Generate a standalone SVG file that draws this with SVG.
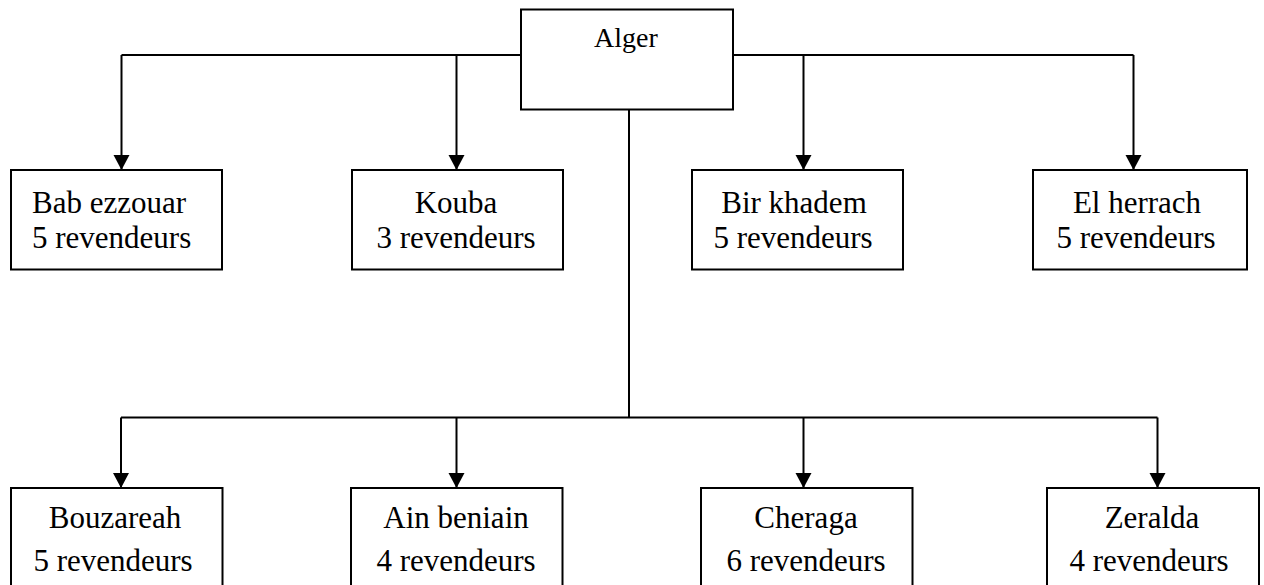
<svg xmlns="http://www.w3.org/2000/svg" width="1264" height="585" viewBox="0 0 1264 585">
  <style>
    .box { fill: #ffffff; stroke: #000000; stroke-width: 2; }
    .link { fill: none; stroke: #000000; stroke-width: 2; }
    .arrow { fill: none; stroke: #000000; stroke-width: 2; marker-end: url(#head); }
    text { font-family: "Liberation Serif", "Times New Roman", serif; font-size: 31px; fill: #000000; }
    .mid { text-anchor: middle; }
  </style>
  <defs>
    <marker id="head" markerUnits="userSpaceOnUse" markerWidth="16" markerHeight="17" refX="15" refY="8.5" orient="auto" viewBox="0 0 16 17">
      <path d="M0,0.5 L15,8.5 L0,16.5 Z" fill="#000000"/>
    </marker>
  </defs>
  <rect width="1264" height="585" fill="#ffffff"/>

  <!-- connectors -->
  <g id="connectors">
    <!-- upper branch line -->
    <line class="link" x1="121.5" y1="55" x2="1133.5" y2="55"/>
    <line class="arrow" x1="121.5" y1="55" x2="121.5" y2="170"/>
    <line class="arrow" x1="456.5" y1="55" x2="456.5" y2="170"/>
    <line class="arrow" x1="803.5" y1="55" x2="803.5" y2="170"/>
    <line class="arrow" x1="1133.5" y1="55" x2="1133.5" y2="170"/>
    <!-- trunk down to the lower branch line -->
    <line class="link" x1="629" y1="109" x2="629" y2="418"/>
    <line class="link" x1="121" y1="417.5" x2="1157.5" y2="417.5"/>
    <line class="arrow" x1="121" y1="417.5" x2="121" y2="488"/>
    <line class="arrow" x1="456.5" y1="417.5" x2="456.5" y2="488"/>
    <line class="arrow" x1="803.5" y1="417.5" x2="803.5" y2="488"/>
    <line class="arrow" x1="1157.5" y1="417.5" x2="1157.5" y2="488"/>
  </g>

  <!-- root -->
  <g id="alger">
    <rect class="box" x="521" y="9.5" width="212" height="100"/>
    <text class="mid" x="626" y="46.5" style="font-size:28px">Alger</text>
  </g>

  <!-- upper row -->
  <g id="bab-ezzouar">
    <rect class="box" x="11" y="170" width="211" height="99.5"/>
    <text x="32" y="213">Bab ezzouar</text>
    <text x="32" y="248">5 revendeurs</text>
  </g>
  <g id="kouba">
    <rect class="box" x="352" y="170" width="211" height="99.5"/>
    <text class="mid" x="456" y="213">Kouba</text>
    <text class="mid" x="456" y="248">3 revendeurs</text>
  </g>
  <g id="bir-khadem">
    <rect class="box" x="692" y="170" width="211" height="99.5"/>
    <text class="mid" x="794" y="213">Bir khadem</text>
    <text class="mid" x="793" y="248">5 revendeurs</text>
  </g>
  <g id="el-herrach">
    <rect class="box" x="1033" y="170" width="214" height="99.5"/>
    <text class="mid" x="1137" y="213">El herrach</text>
    <text class="mid" x="1136" y="248">5 revendeurs</text>
  </g>

  <!-- lower row -->
  <g id="bouzareah">
    <rect class="box" x="11" y="488" width="211.5" height="110"/>
    <text class="mid" x="115" y="528">Bouzareah</text>
    <text class="mid" x="113" y="570.5">5 revendeurs</text>
  </g>
  <g id="ain-beniain">
    <rect class="box" x="351" y="488" width="211.5" height="110"/>
    <text class="mid" x="456" y="528">Ain beniain</text>
    <text class="mid" x="456" y="570.5">4 revendeurs</text>
  </g>
  <g id="cheraga">
    <rect class="box" x="701" y="488" width="211.5" height="110"/>
    <text class="mid" x="806" y="528">Cheraga</text>
    <text class="mid" x="806" y="570.5">6 revendeurs</text>
  </g>
  <g id="zeralda">
    <rect class="box" x="1047" y="488" width="212" height="110"/>
    <text class="mid" x="1152" y="528">Zeralda</text>
    <text class="mid" x="1149" y="570.5">4 revendeurs</text>
  </g>
</svg>
